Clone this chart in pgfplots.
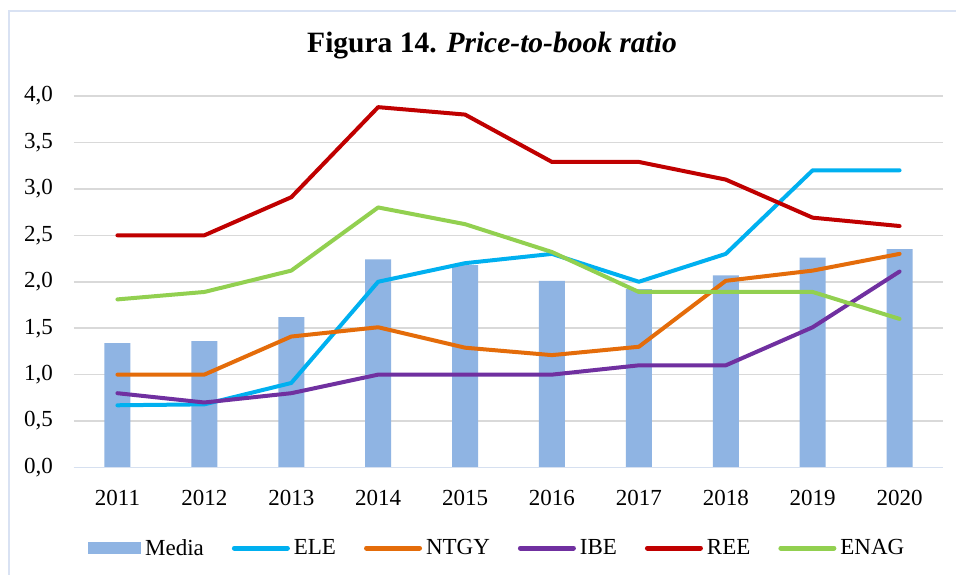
\documentclass[border=0pt]{standalone}
\usepackage{fontspec}
\setmainfont{Liberation Serif}
\usepackage{pgfplots}
\pgfplotsset{compat=1.18}
\definecolor{mediacol}{HTML}{8FB4E3}
\definecolor{elecol}{HTML}{00B0F0}
\definecolor{ntgycol}{HTML}{E46C0A}
\definecolor{ibecol}{HTML}{7030A0}
\definecolor{reecol}{HTML}{C00000}
\definecolor{enagcol}{HTML}{92D050}
\definecolor{gridcol}{HTML}{D9D9D9}
\definecolor{bordercol}{HTML}{D9E2F3}
\definecolor{axcol}{HTML}{D6E0F0}
\begin{document}
\begin{tikzpicture}[x=1pt,y=1pt]
\useasboundingbox (0,0) rectangle (956,574);
\fill[white] (0,0) rectangle (956,574);
\draw[bordercol, line width=2pt] (9,-5) -- (9,563) -- (970,563);
\begin{axis}[
  at={(74pt,106.5pt)}, anchor=south west,
  width=869pt, height=371.5pt, scale only axis,
  xmin=-0.5, xmax=9.5, ymin=0, ymax=4,
  xtick={0,1,2,3,4,5,6,7,8,9},
  xticklabels={2011,2012,2013,2014,2015,2016,2017,2018,2019,2020},
  ytick={0,0.5,1,1.5,2,2.5,3,3.5,4},
  major tick length=0pt,
  axis line style={draw=none},
  ymajorgrids, grid style={draw=gridcol, line width=1.5pt},
  /pgf/number format/.cd, use comma, fixed, fixed zerofill, precision=1, assume math mode=true,
  /pgfplots/.cd,
  ticklabel style={font=\fontsize{23}{27}\selectfont},
  yticklabel style={inner sep=0pt, xshift=-21pt},
  xticklabel style={inner sep=0pt, yshift=-22.5pt},
  title={\textbf{Figura 14.} \textbf{\textit{Price-to-book ratio}}},
  title style={font=\fontsize{29.5}{34}\selectfont, at={(0.481,1.1015)}, anchor=base, inner sep=0pt},
  legend columns=6,
  legend style={at={(0.487,-0.2167)}, anchor=center, draw=none, fill=none,
    font=\fontsize{23}{27}\selectfont, nodes={inner sep=2pt}, column sep=2pt,
    /tikz/every even column/.append style={column sep=26pt}},
  legend image code/.code={\draw[#1, line width=5pt] (0pt,0pt) -- (53pt,0pt);},
  every axis plot/.append style={line width=4pt, line cap=round, line join=round},
]
\addplot[ybar, bar width=26pt, fill=mediacol, draw=none, line width=0pt,
  legend image code/.code={\fill[mediacol] (0pt,-6pt) rectangle (53pt,6pt);}]
  coordinates {(0,1.34) (1,1.36) (2,1.62) (3,2.24) (4,2.18) (5,2.01) (6,1.92) (7,2.07) (8,2.26) (9,2.35)};
\addlegendentry{Media}
\addplot[elecol] coordinates {(0,0.67) (1,0.68) (2,0.91) (3,2.0) (4,2.2) (5,2.3) (6,2.0) (7,2.3) (8,3.2) (9,3.2)};
\addlegendentry{ELE}
\addplot[ntgycol] coordinates {(0,1.0) (1,1.0) (2,1.41) (3,1.51) (4,1.29) (5,1.21) (6,1.3) (7,2.01) (8,2.12) (9,2.3)};
\addlegendentry{NTGY}
\addplot[ibecol] coordinates {(0,0.8) (1,0.7) (2,0.8) (3,1.0) (4,1.0) (5,1.0) (6,1.1) (7,1.1) (8,1.51) (9,2.11)};
\addlegendentry{IBE}
\addplot[reecol] coordinates {(0,2.5) (1,2.5) (2,2.91) (3,3.88) (4,3.8) (5,3.29) (6,3.29) (7,3.1) (8,2.69) (9,2.6)};
\addlegendentry{REE}
\addplot[enagcol] coordinates {(0,1.81) (1,1.89) (2,2.12) (3,2.8) (4,2.62) (5,2.32) (6,1.89) (7,1.89) (8,1.89) (9,1.6)};
\addlegendentry{ENAG}
\draw[axcol, line width=1.5pt] (axis cs:-0.5,0) -- (axis cs:9.5,0);
\end{axis}
\end{tikzpicture}
\end{document}
